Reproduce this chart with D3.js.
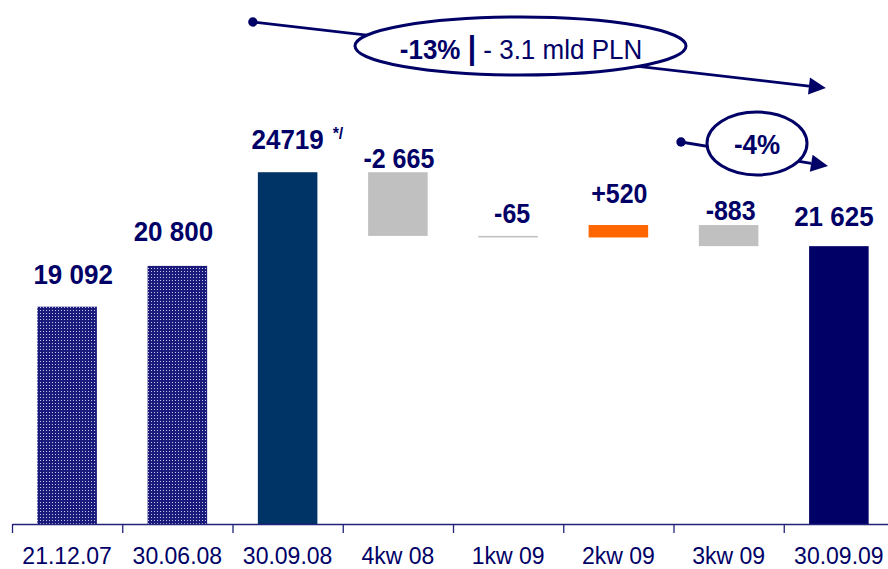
<!DOCTYPE html>
<html><head><meta charset="utf-8">
<script src="https://cdn.jsdelivr.net/npm/d3@7/dist/d3.min.js"></script>
<style>
body{margin:0;background:#fff}
svg{display:block}
text{font-family:"Liberation Sans",Arial,Helvetica,sans-serif}
</style>
</head><body>
<svg id="chart" width="888" height="569"></svg>
<script>
// ---------- data ----------
const categories = ["21.12.07","30.06.08","30.09.08","4kw 08","1kw 09","2kw 09","3kw 09","30.09.09"];
const totals     = [19092, 20800, 24719, null, null, null, null, 21625];
const deltas     = [null, null, null, -2665, -65, 520, -883, null];
const valueLabels = ["19 092","20 800","24719","-2 665","-65","+520","-883","21 625"];
const yDomain = [10000, 25000];
const annotationMain = ["-13%", "|", " - 3.1 mld PLN"];
const annotationSmall = "-4%";

// ---------- layout / style ----------
const NAVY = "#000066";
const fills = ["url(#dots)","url(#dots)","#003366","#c0c0c0","#c0c0c0","#ff6600","#c0c0c0","#000066"];
const labelGap = [23, 25, 23, 4, 13, 22, 5, 20];
const labelDx  = [6, -4, 0, 1, 4, 1, 2, -5];
const stretch = 1.08;

const svg = d3.select("#chart");
const defs = svg.append("defs");
const pat = defs.append("pattern").attr("id","dots").attr("patternUnits","userSpaceOnUse")
  .attr("width",3).attr("height",3);
pat.append("rect").attr("width",3).attr("height",3).attr("fill","#1a1a7a");
pat.append("rect").attr("x",1).attr("y",1).attr("width",1).attr("height",1).attr("fill","#c4c4ee");

const x = d3.scaleBand().domain(categories).range([12, 894]).padding(0);
const step = x.step();
const barW = step * 0.54;
const y = d3.scaleLinear().domain(yDomain).range([524, 165.5]);

// build waterfall rows
let running = 0;
const rows = categories.map((c, i) => {
  let lo, hi;
  if (totals[i] != null) { lo = yDomain[0]; hi = totals[i]; running = totals[i]; }
  else { const s = running, e = running + deltas[i]; lo = Math.min(s, e); hi = Math.max(s, e); running = e; }
  return {c, i, lo, hi, total: totals[i] != null};
});

// bars
svg.append("g").selectAll("rect").data(rows).join("rect")
  .attr("x", d => x(d.c) + (step - barW) / 2)
  .attr("width", barW)
  .attr("y", d => y(d.hi))
  .attr("height", d => Math.max(1.5, y(d.lo) - y(d.hi)))
  .attr("fill", d => fills[d.i]);

// axis (slot boundaries as ticks)
const slot = d3.scaleLinear().domain([0, categories.length]).range([12, 894]);
const axisG = svg.append("g").attr("transform", "translate(0,524)")
  .call(d3.axisBottom(slot).tickValues(d3.range(0, categories.length + 1)).tickFormat("").tickSize(9).tickSizeOuter(0));
axisG.select(".domain").attr("stroke", "#22227a").attr("stroke-width", 1.3);
axisG.selectAll(".tick line").attr("stroke", "#22227a").attr("stroke-width", 1.3);

// category labels
svg.append("g").selectAll("text").data(categories).join("text")
  .attr("x", d => x(d) + step / 2)
  .attr("y", 564)
  .attr("text-anchor", "middle")
  .attr("font-size", 23)
  .attr("fill", NAVY)
  .text(d => d);

// value labels
svg.append("g").selectAll("text").data(rows).join("text")
  .attr("transform", d => `translate(${x(d.c) + step / 2 + labelDx[d.i]},${y(d.hi) - labelGap[d.i]}) scale(1,${stretch})`)
  .attr("text-anchor", "middle")
  .attr("font-size", d => d.total ? 26 : 25)
  .attr("font-weight", "bold")
  .attr("fill", NAVY)
  .text(d => valueLabels[d.i]);

// footnote marker on 30.09.08
const r2 = rows[2];
svg.append("text")
  .attr("x", x(r2.c) + step / 2 + 45)
  .attr("y", y(r2.hi) - 33)
  .attr("font-size", 16).attr("font-weight", "bold").attr("fill", NAVY)
  .text("*/");

// ---------- annotations ----------
function arrowLine(x1, y1, x2, y2) {
  const g = svg.append("g");
  const ang = Math.atan2(y2 - y1, x2 - x1);
  const L = 17, Hw = 8.5;
  const bx = x2 - L * Math.cos(ang), by = y2 - L * Math.sin(ang);
  g.append("line").attr("x1", x1).attr("y1", y1).attr("x2", bx).attr("y2", by)
    .attr("stroke", NAVY).attr("stroke-width", 2.8);
  g.append("circle").attr("cx", x1).attr("cy", y1).attr("r", 4.7).attr("fill", NAVY);
  const px = -Math.sin(ang), py = Math.cos(ang);
  g.append("path").attr("d", d3.line()([[x2, y2], [bx + px * Hw, by + py * Hw], [bx - px * Hw, by - py * Hw]]) + "Z")
    .attr("fill", NAVY);
}

// main -13% annotation
const a1x = x(categories[2]) + (step - barW) / 2 - 5;
const a1tip = x(categories[7]) + step / 2 - 13;
arrowLine(a1x, 22, a1tip, 88);
svg.append("ellipse").attr("cx", 520.5).attr("cy", 46).attr("rx", 165.5).attr("ry", 29)
  .attr("fill", "#fff").attr("stroke", NAVY).attr("stroke-width", 3);
const t1 = svg.append("text").attr("transform", `translate(521,59) scale(1,${stretch})`).attr("text-anchor", "middle")
  .attr("font-size", 26).attr("fill", NAVY).attr("xml:space", "preserve");
t1.append("tspan").attr("font-weight", "bold").text(annotationMain[0] + " ");
t1.append("tspan").attr("font-weight", "bold").attr("font-size", 30).text(annotationMain[1]);
t1.append("tspan").text(annotationMain[2]);

// small -4% annotation
arrowLine(681, 142, 828, 166);
svg.append("ellipse").attr("cx", 757).attr("cy", 143.5).attr("rx", 50).attr("ry", 31.5)
  .attr("fill", "#fff").attr("stroke", NAVY).attr("stroke-width", 3);
svg.append("text").attr("transform", `translate(757,154) scale(1,${stretch})`).attr("text-anchor", "middle")
  .attr("font-size", 26).attr("font-weight", "bold").attr("fill", NAVY).text(annotationSmall);
</script>
</body></html>
